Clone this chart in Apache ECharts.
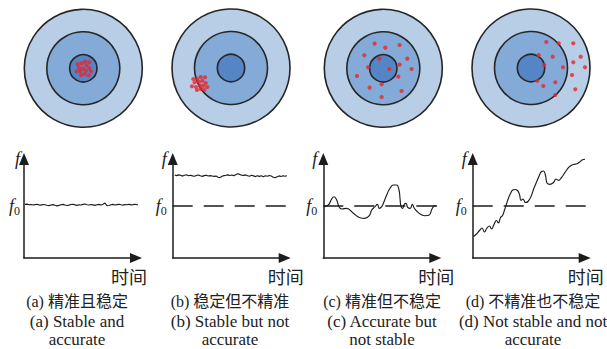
<!DOCTYPE html>
<html>
<head>
<meta charset="utf-8">
<script src="https://cdn.jsdelivr.net/npm/echarts@6/dist/echarts.min.js"></script>
<style>
  html, body { margin: 0; padding: 0; background: #fff; }
  #chart { width: 607px; height: 349px; }
</style>
</head>
<body>
<div id="chart"></div>
<script>
// Target rings, outer to inner (radius in target units)
const ringRadii = [59, 36.5, 13.7];
const ringColors = ['#b8cde6', '#84aad8', '#5585c5'];

// Hit positions [x, y] measured from the bullseye
const hitsA = [[-5.7,4.3],[-1.7,5],[1.7,6.7],[6,6],[-4.3,0.7],[-0.3,-0.3],[3.3,3],[6,0.3],
  [-6.7,-3.3],[-3,-2.7],[2.7,-2.3],[7.7,-3],[-2.3,-6.7],[1.3,-5.7],[5.3,-7]];
const hitsB = [[-37.7,-11],[-34,-10.7],[-30.3,-9],[-26,-9.3],[-36.3,-14.3],[-32.3,-13.7],[-28.7,-12.7],
  [-25.3,-15],[-39,-18.3],[-35,-19],[-31,-17.7],[-27.7,-17.7],[-23.7,-19],[-34,-22],[-30.3,-21],[-26.7,-22]];
const hitsC = [[-8.7,24.7],[2,20.7],[16.3,23.3],[-19,13],[-4,9.7],[24,9.7],[16.3,3.7],[-15.3,1],
  [6,-0.7],[28.3,-0.7],[-26.3,-7.7],[15,-8.3],[-1.7,-16],[-13.7,-19.3],[18.3,-22.7],[-1.7,-28.7]];
const hitsD = [[15.3,26],[27.7,24.7],[42.3,24.7],[7.7,13],[21.7,11.3],[49.7,11.3],[13.3,3],[42.3,5.7],
  [32,0.7],[54,0.7],[41,-7],[6.3,-12.7],[24.3,-14.3],[12.3,-18],[44.3,-21.3],[24.3,-27]];

// Reference frequency level
const F0 = 52;

// (a) stable & accurate: evenly sampled readings
const traceA = [53.6,53.9,53.2,53.5,53.0,53.4,53.8,53.1,52.9,53.5,
  53.3,52.8,52.4,53.0,53.4,52.7,52.1,52.6,53.2,53.6,
  53.0,52.5,52.9,53.5,53.7,53.1,52.6,53.2,53.0,53.6,
  54.0,53.3,53.0,53.5,53.1,52.6,53.2,53.6,53.0,53.7,
  55.0,52.3,52.5,53.3,53.6,53.0,53.4,53.8,53.2,52.9,
  53.5,53.2,53.7,53.1,53.4,53.8,53.3,53.2,53.6,53.3,
  53.5,53.2];
// (b) stable but offset
const traceB = [83.0,82.4,83.1,82.7,81.9,82.8,83.2,82.3,82.8,82.1,
  81.7,82.5,83.0,82.2,81.6,82.4,82.8,82.0,82.4,82.0,
  81.6,81.9,80.7,80.4,81.8,82.4,82.7,83.1,82.5,83.0,
  82.4,83.2,84.2,83.6,82.7,82.6,83.1,82.2,81.8,82.7,
  82.1,81.4,82.3,81.6,82.3,81.3,82.2,81.7,82.5,82.0,
  80.8,80.3,81.2,82.1,81.5,82.3,81.7,82.3,81.9,82.5,
  82.2,82.6];
// (c) accurate but unstable
const traceCTime = [0.7,5,8.4,10.7,13.4,15.7,18.4,23.4,30,36.7,41.7,46,48.4,51.7,54,56,58.4,60.7,63.4,66.7,
  70,73.4,75.7,76.7,77.7,79.4,81,82.7,84.4,87,89,91,94,97.4,101.7,106,108.7,111.7,115,118.4];
const traceCValue = [51.3,53,59,61.3,58,51.3,49,49.7,44.7,40.3,39.7,42.3,48,51.3,53.7,49.7,51.3,56.3,63,69.7,
  73,73,68,59.7,51.3,49.7,53.7,54.7,50.7,49.7,53.7,49.7,46.3,43.7,42.3,43,49,52.3,51.3,50.3];
// (d) drifting and unstable
const traceDTime = [0.8,3.8,6.8,9.3,11.8,14.3,16.8,18.8,21.3,23.8,25.8,27.8,29.8,31.8,33.8,35.8,37.8,40,42.3,44.8,
  46.8,48.3,50.3,52.8,55.3,58.3,61.3,64.3,66.8,68.8,70.8,72.8,74.3,77.3,80.8,83.3,85.8,88.8,91.3,94.3,
  97.3,100.8,104.3,107.3,109.8,112.3];
const traceDValue = [21.5,24,27.5,30,26,30,32,29,33.5,37.5,35,40.5,42.5,48,54,60,64.5,68,68.5,67.5,
  63.5,57.5,59,55.5,56.5,61.5,70,77,83,86.5,87,82.5,75,73.7,75.5,79,77.7,80.5,84,88.5,
  91.7,93.5,94.2,96.3,98.2,98.7];

const captionsZh = ['(a) 精准且稳定', '(b) 稳定但不精准', '(c) 精准但不稳定', '(d) 不精准也不稳定'];
const captionsEn1 = ['(a) Stable and', '(b) Stable but not', '(c) Accurate but', '(d) Not stable and not'];
const captionsEn2 = ['accurate', 'accurate', 'not stable', 'accurate'];
const timeLabel = '时间';

// Layout
const targetCenters = [[83.3, 68.3], [231, 68], [383.3, 68.3], [531, 68]];
const plotLefts = [24, 172.7, 323.3, 472.7];
const timeNameGaps = [-25, -17, -17, -17];
const captionX = [77, 230, 382, 533];

const SERIF = "'Liberation Serif', 'Times New Roman', serif";
const CJK = "'Liberation Serif', 'Noto Sans CJK SC', sans-serif";
const INK = '#1c1c1c';

const grid = [], xAxis = [], yAxis = [], series = [];
const hits = [hitsA, hitsB, hitsC, hitsD];

targetCenters.forEach(function (c, i) {
  grid.push({ left: c[0] - 62, top: c[1] - 62, width: 124, height: 124 });
  xAxis.push({ gridIndex: i, type: 'value', min: -62, max: 62, show: false });
  yAxis.push({ gridIndex: i, type: 'value', min: -62, max: 62, show: false });
  series.push({
    type: 'custom', xAxisIndex: i, yAxisIndex: i, silent: true,
    data: ringRadii.map(function (r, k) { return [0, 0, r, k]; }),
    renderItem: function (params, api) {
      const p = api.coord([api.value(0), api.value(1)]);
      const r = api.size([api.value(2), 0])[0];
      return {
        type: 'circle',
        shape: { cx: p[0], cy: p[1], r: r },
        style: { fill: ringColors[api.value(3)], stroke: '#262626', lineWidth: 1.6 }
      };
    }
  });
  series.push({
    type: 'scatter', xAxisIndex: i, yAxisIndex: i, silent: true,
    data: hits[i], symbolSize: 4.2, itemStyle: { color: '#e8262a' }, z: 3
  });
});

const fRich = {
  f: { fontFamily: SERIF, fontStyle: 'italic', fontSize: 18, color: INK },
  s: { fontFamily: SERIF, fontSize: 12, color: INK, verticalAlign: 'bottom', lineHeight: 22 }
};

plotLefts.forEach(function (left, i) {
  const g = 4 + i;
  grid.push({ left: left, top: 159, width: 112, height: 99 });
  const axisLine = {
    show: true, onZero: false, symbol: ['none', 'triangle'], symbolSize: [10, 12],
    lineStyle: { color: INK, width: 1.5 }
  };
  xAxis.push({
    gridIndex: g, type: 'value', min: 0, max: 112,
    axisLine: axisLine, axisTick: { show: false }, axisLabel: { show: false }, splitLine: { show: false },
    name: timeLabel, nameLocation: 'end', nameGap: timeNameGaps[i],
    nameTextStyle: { fontFamily: "'Noto Sans CJK SC', sans-serif", fontSize: 18, color: '#222',
      align: 'left', verticalAlign: 'top', padding: [9, 0, 0, 0] }
  });
  yAxis.push({
    gridIndex: g, type: 'value', min: 0, max: 99,
    axisLine: axisLine, axisTick: { show: false }, splitLine: { show: false },
    axisLabel: {
      show: true, customValues: [F0, 99], margin: i === 0 ? 4 : 6,
      formatter: function (v) { return v === F0 ? '{f|f}{s|0}' : '{f|f}'; },
      rich: fRich
    }
  });
});

function lineSeries(g, data, smooth) {
  return {
    type: 'line', xAxisIndex: g, yAxisIndex: g, data: data, showSymbol: false, silent: true,
    smooth: smooth, clip: false, lineStyle: { color: INK, width: 1.15 }, z: 4
  };
}
function f0Series(g) {
  return {
    type: 'line', xAxisIndex: g, yAxisIndex: g, data: [[0, F0], [116, F0]], showSymbol: false,
    silent: true, clip: false, lineStyle: { color: INK, width: 1.3, type: [20, 11] }, z: 3
  };
}

series.push(lineSeries(4, traceA.map(function (v, i) { return [1 + 2 * i, v]; }), false));
series.push(f0Series(5));
series.push(lineSeries(5, traceB.map(function (v, i) { return [2 + 1.97 * i, v]; }), false));
series.push(f0Series(6));
series.push(lineSeries(6, traceCTime.map(function (t, i) { return [t, traceCValue[i]]; }), 0.45));
series.push(f0Series(7));
series.push(lineSeries(7, traceDTime.map(function (t, i) { return [t, traceDValue[i]]; }), 0.45));

// Captions under each panel
const graphic = [];
captionX.forEach(function (x, i) {
  graphic.push({ type: 'text', x: x, y: 301, silent: true,
    style: { text: captionsZh[i], font: "16px " + CJK, fill: '#222', align: 'center', verticalAlign: 'middle' } });
  graphic.push({ type: 'text', x: x, y: 321, silent: true,
    style: { text: captionsEn1[i], font: "17px " + SERIF, fill: '#222', align: 'center', verticalAlign: 'middle' } });
  graphic.push({ type: 'text', x: x, y: 339, silent: true,
    style: { text: captionsEn2[i], font: "17px " + SERIF, fill: '#222', align: 'center', verticalAlign: 'middle' } });
});

const chart = echarts.init(document.getElementById('chart'), null, { renderer: 'svg' });
chart.setOption({
  animation: false,
  backgroundColor: '#ffffff',
  grid: grid, xAxis: xAxis, yAxis: yAxis, series: series, graphic: graphic
});
</script>
</body>
</html>
